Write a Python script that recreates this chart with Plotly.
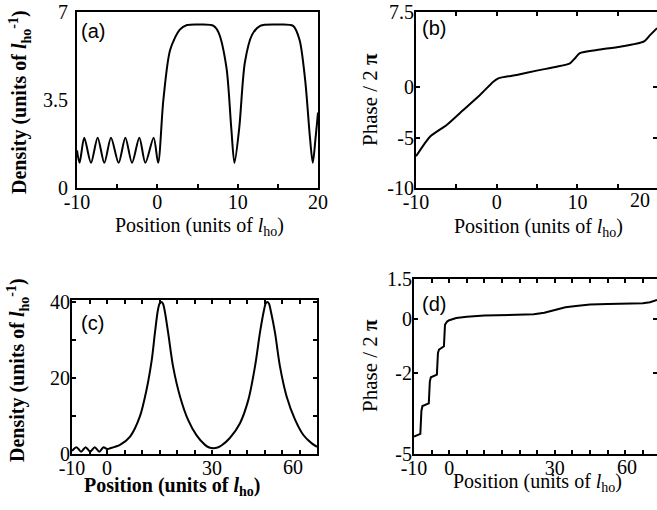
import plotly.graph_objects as go

W, H = 657, 510

# ---------------- data ----------------
# Panel (a): density vs position
a_x = [-10, -9.68, -9.1, -8.26, -7.43, -6.6, -5.77, -4.82, -3.98, -3.15, -2.24, -1.49, -0.46, 0.1,
       0.75, 1.6, 2.8, 3.7, 5.5, 7.0, 7.6, 8.6, 9.2, 9.6, 10.2, 10.9, 11.8, 12.8, 15.0, 16.9,
       17.7, 18.4, 19.0, 19.35, 19.7, 20.0]
a_y = [1.5, 1.0, 2.0, 1.0, 2.0, 1.0, 2.0, 1.0, 2.0, 1.0, 2.0, 1.0, 2.0, 1.0,
       3.5, 5.5, 6.3, 6.48, 6.5, 6.45, 6.2, 4.8, 2.4, 1.0, 2.4, 5.0, 6.1, 6.45, 6.5, 6.45,
       5.9, 4.3, 2.0, 1.0, 2.0, 3.0]

# Panel (b): phase / 2pi vs position
b_x = [-10, -8.27, -6.2, -4.14, -2.07, -0.42, 0.2, 2.48, 4.96, 7.44, 9.08, 9.7, 10.3, 12.4,
       15.3, 18.2, 19.0, 19.86]
b_y = [-6.85, -4.9, -3.73, -2.24, -0.75, 0.57, 0.9, 1.24, 1.67, 2.06, 2.4, 2.9, 3.4, 3.72,
       4.05, 4.55, 5.2, 5.9]

# Panel (c): density vs position
c_x = [-10, -8.7, -7.4, -6.1, -4.8, -3.5, -2.2, -1.0, 0.0, 0.9, 3.7, 6.6, 9.4, 11.3, 12.8,
       13.7, 14.5, 15.0, 15.5, 16.0, 16.5, 17.5, 18.9, 20.9, 23.2, 25.6, 28.0, 29.2, 30.4, 31.6,
       32.8, 35.1, 38.0, 40.4, 42.3, 43.7, 44.8, 45.3, 45.8, 46.3, 46.8, 48.0, 49.4, 51.3,
       53.7, 56.1, 58.5, 60.0]
c_y = [0.8, 1.8, 0.6, 1.8, 0.6, 1.8, 0.6, 1.8, 1.3, 1.5, 2.4, 4.6, 9.9, 16.9, 24.8,
       31.9, 37.6, 39.5, 40.0, 39.5, 37.6, 31.7, 22.9, 15.0, 8.9, 4.9, 2.4, 1.7, 1.5, 1.7,
       2.3, 4.2, 8.1, 14.3, 23.1, 31.9, 37.6, 39.5, 40.0, 39.5, 37.6, 31.9, 23.1, 15.2,
       9.1, 5.0, 2.8, 1.9]

# Panel (d): phase / 2pi vs position
d_x = [-10, -8.2, -7.9, -7.6, -5.8, -5.5, -5.2, -3.5, -3.2, -2.9, -1.5, -1.2, -0.6, 0,
       2, 5, 10, 15, 20, 24, 27, 30, 33, 36, 40, 45, 50, 55, 57, 59]
d_y = [-4.35, -4.25, -3.4, -3.22, -3.12, -2.3, -2.15, -2.05, -1.25, -1.12, -1.0, -0.2, -0.08, -0.03,
       0.05, 0.1, 0.14, 0.15, 0.16, 0.19, 0.25, 0.36, 0.45, 0.5, 0.55, 0.57, 0.58, 0.6, 0.64, 0.72]

# ---------------- ticks ----------------
a_xticks = [-10, -5, 0, 5, 10, 15, 20]
a_xlabels = ['-10', '', '0', '', '10', '', '20']
a_yticks = [0, 3.5, 7]
a_ylabels = ['0', '3.5', '7']

b_xticks = [-10, -5, 0, 5, 10, 15]
b_xlabels = ['-10', '', '0', '', '10', '']
b_xlast = (20, '20')
b_yticks = [-10, -5, 0, 7.5]
b_ylabels = ['-10', '-5', '0', '7.5']

c_xticks = [-10, -5, 0, 5, 10, 15, 20, 25, 30, 35, 40, 45, 50, 55]
c_xlabels = ['-10', '', '0', '', '', '', '', '', '30', '', '', '', '', '']
c_xlast = (60, '60')
c_yticks = [0, 10, 20, 30, 40]
c_ylabels = ['0', '', '20', '', '40']

d_xticks = [-10, -5, 0, 5, 10, 15, 20, 25, 30, 35, 40, 45, 50, 55]
d_xlabels = ['-10', '', '0', '', '', '', '', '', '30', '', '', '', '', '']
d_xlast = (60, '60')
d_yticks = [-5, -2, 0, 1.5]
d_ylabels = ['-5', '-2', '0', '1.5']

SERIF = 'Liberation Serif'
SANS = 'Liberation Sans'


def px_x(p):
    return p / W


def px_y(p):
    return 1 - p / H


def axis(domain, rng, tickvals, ticktext, anchor, mirror='allticks', standoff=0,
         tickcolor='black'):
    return dict(domain=domain, range=rng, tickmode='array', tickvals=tickvals, ticktext=ticktext,
                ticks='inside', ticklen=4, tickwidth=1.5, tickcolor=tickcolor,
                showline=True, linecolor='black', linewidth=2, mirror=mirror,
                showgrid=False, zeroline=False, anchor=anchor,
                tickfont=dict(family=SERIF, size=20, color='black'),
                ticklabelstandoff=standoff,
                fixedrange=True, automargin=False)


fig = go.Figure()
line = dict(color='black', width=2)
fig.add_trace(go.Scatter(x=a_x, y=a_y, mode='lines', xaxis='x', yaxis='y',
                         line=dict(line, shape='spline', smoothing=0.8), showlegend=False, hoverinfo='skip'))
fig.add_trace(go.Scatter(x=b_x, y=b_y, mode='lines', xaxis='x2', yaxis='y2',
                         line=dict(line, shape='spline', smoothing=0.6), showlegend=False, hoverinfo='skip'))
fig.add_trace(go.Scatter(x=c_x, y=c_y, mode='lines', xaxis='x3', yaxis='y3',
                         line=dict(line, shape='spline', smoothing=0.8), showlegend=False, hoverinfo='skip'))
fig.add_trace(go.Scatter(x=d_x, y=d_y, mode='lines', xaxis='x4', yaxis='y4',
                         line=dict(line, shape='linear'), showlegend=False, hoverinfo='skip'))

dom_a_x = [px_x(77), px_x(318)]
dom_b_x = [px_x(416), 1.0]
dom_c_x = [px_x(72), px_x(317)]
dom_d_x = [px_x(414), 1.0]
dom_top_y = [px_y(188), px_y(12)]
dom_c_y = [px_y(454), px_y(300)]
dom_d_y = [px_y(454), px_y(279)]

XS = -5   # x tick label standoff
YS = -4   # y tick label standoff

fig.update_layout(
    width=W, height=H,
    margin=dict(l=0, r=0, t=0, b=0),
    plot_bgcolor='white', paper_bgcolor='white',
    xaxis=axis(dom_a_x, [-10, 20], a_xticks, a_xlabels, 'y', mirror=True, standoff=XS),
    yaxis=axis(dom_top_y, [0, 7], a_yticks, a_ylabels, 'x', mirror=True, standoff=3,
               tickcolor='rgba(0,0,0,0)'),
    xaxis2=axis(dom_b_x, [-10, 19.86], b_xticks, b_xlabels, 'y2', standoff=XS),
    yaxis2=axis(dom_top_y, [-10, 7.5], b_yticks, b_ylabels, 'x2', standoff=YS),
    xaxis3=axis(dom_c_x, [-10, 60], c_xticks, c_xlabels, 'y3', standoff=XS),
    yaxis3=axis(dom_c_y, [0, 40.5], c_yticks, c_ylabels, 'x3', standoff=YS),
    xaxis4=axis(dom_d_x, [-10, 59], d_xticks, d_xlabels, 'y4', standoff=XS),
    yaxis4=axis(dom_d_y, [-5, 1.5], d_yticks, d_ylabels, 'x4', standoff=YS),
)

tfont = dict(family=SERIF, size=20, color='black')
yfont = dict(family=SERIF, size=21, color='black')
pos_title = 'Position (units of <i>l</i><sub>ho</sub>)'
dens_title = 'Density (units of <i>l</i><sub>ho</sub><sup>-1</sup>)'
phase_title = 'Phase / 2 <b>π</b>'

ann = []


def add_text(text, x, y, angle=0, font=tfont, xanchor='center', yanchor='middle'):
    ann.append(dict(text=text, x=px_x(x), y=px_y(y), xref='paper', yref='paper', showarrow=False,
                    textangle=angle, font=font, xanchor=xanchor, yanchor=yanchor))


# axis titles
add_text(pos_title, 199, 226)
add_text('<b>' + dens_title + '</b>', 20, 102, angle=-90)
add_text(pos_title, 538, 228)
add_text(phase_title, 370, 100, angle=-90, font=yfont)
add_text('<b>' + pos_title + '</b>', 172, 486)
add_text('<b>' + dens_title + '</b>', 18, 370, angle=-90)
add_text(pos_title, 537, 482)
add_text(phase_title, 370, 366, angle=-90, font=yfont)

# panel letters
lfont = dict(family=SANS, size=20, color='black')
add_text('(a)', 93, 31, font=lfont)
add_text('(b)', 434, 28, font=lfont)
add_text('(c)', 92, 323, font=lfont)
add_text('(d)', 434, 304, font=lfont)

# last x tick labels, placed inside the figure edge
add_text(b_xlast[1], 640, 200)
add_text(c_xlast[1], 293, 467)
add_text(d_xlast[1], 627, 467)

fig.update_layout(annotations=ann)
fig.write_html('out.html', config={'displayModeBar': False},
               post_script="document.body.style.margin='0';")
